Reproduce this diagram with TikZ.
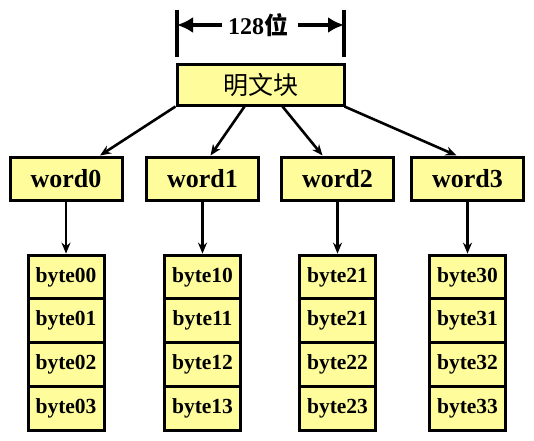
\documentclass[tikz,border=0pt]{standalone}
\usepackage{fontspec}
\setmainfont{Liberation Serif}
\newfontfamily\cjk{Noto Sans CJK SC}
\usepackage{tikz}
\usetikzlibrary{positioning,calc,arrows.meta}
\usepackage{xcolor}
\definecolor{paleY}{RGB}{255,253,155}

\begin{document}
\begin{tikzpicture}[
    x=1pt, y=1pt,
    Pbox/.style={fill=paleY, draw=black, line width=3pt, minimum width=167pt, minimum height=40pt, inner sep=0pt, font=\fontsize{25}{28}\selectfont\cjk},
    Wbox/.style={fill=paleY, draw=black, line width=3pt, minimum width=112pt, minimum height=43pt, inner sep=0pt, font=\fontsize{26}{28}\selectfont\bfseries},
    Bbox/.style={fill=paleY, draw=black, line width=3pt, minimum width=76pt, minimum height=43.75pt, inner sep=0pt, font=\fontsize{21.5}{24}\selectfont\bfseries},
    ax/.style={-{Stealth[length=11pt,width=9pt]}, line width=2.6pt},
    tick/.style={line width=4pt},
    dim/.style={-{Latex[length=16pt,width=16pt]}, line width=4pt},
    Tlbl/.style={font=\fontsize{24}{28}\selectfont\bfseries, inner sep=0pt},
]
\useasboundingbox (0,0) rectangle (534,440);
% width of the block
\coordinate (dl) at (177,415);
\coordinate (dr) at (344,415);
\draw[tick] (177,430) -- (177,383);
\draw[tick] (344,430) -- (344,383);
\node[Tlbl] (len) at (258,415) {128{\cjk\bfseries 位}};
\draw[dim] ([xshift=-6]len.west) -- (dl);
\draw[dim] ([xshift=10]len.east) -- (dr);
% plaintext block
\node[Pbox] (plain) at (260.5,355) {明文块};
% words
\node[Wbox] (w0) at (66,261.5) {word0};
\node[Wbox] (w1) at (202.5,261.5) {word1};
\node[Wbox] (w2) at (337.5,261.5) {word2};
\node[Wbox] (w3) at (467.5,261.5) {word3};
\draw[ax] (plain.south west) -- ([xshift=34]w0.north);
\draw[ax] ([xshift=-16]plain.south) -- ([xshift=8]w1.north);
\draw[ax] ([xshift=22]plain.south) -- ([xshift=-15]w2.north);
\draw[ax] ([xshift=-1]plain.south east) -- ([xshift=-11]w3.north);
% bytes
\node[Bbox] (b00) at (66,163) {byte00};
\node[Bbox] (b01) at (66,119.25) {byte01};
\node[Bbox] (b02) at (66,75.5) {byte02};
\node[Bbox] (b03) at (66,31.75) {byte03};
\node[Bbox] (b10) at (202.5,163) {byte10};
\node[Bbox] (b11) at (202.5,119.25) {byte11};
\node[Bbox] (b12) at (202.5,75.5) {byte12};
\node[Bbox] (b13) at (202.5,31.75) {byte13};
\node[Bbox] (b20) at (337.5,163) {byte21};
\node[Bbox] (b21) at (337.5,119.25) {byte21};
\node[Bbox] (b22) at (337.5,75.5) {byte22};
\node[Bbox] (b23) at (337.5,31.75) {byte23};
\node[Bbox] (b30) at (467.5,163) {byte30};
\node[Bbox] (b31) at (467.5,119.25) {byte31};
\node[Bbox] (b32) at (467.5,75.5) {byte32};
\node[Bbox] (b33) at (467.5,31.75) {byte33};
\draw[ax] (w0.south) -- (b00.north);
\draw[ax] (w1.south) -- (b10.north);
\draw[ax] (w2.south) -- (b20.north);
\draw[ax] (w3.south) -- (b30.north);
\end{tikzpicture}
\end{document}
